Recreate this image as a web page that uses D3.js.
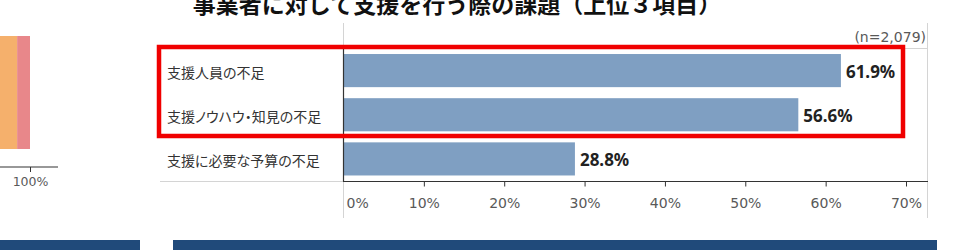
<!DOCTYPE html>
<html><head><meta charset="utf-8">
<script src="https://cdn.jsdelivr.net/npm/d3@7"></script>
<style>
html,body{margin:0;padding:0;background:#fff;}
svg{display:block;}
.cat{font-feature-settings:"palt";}
</style></head>
<body>
<svg id="chart" width="966" height="250"></svg>
<script>
// ---- data ----
const title = "事業者に対して支援を行う際の課題（上位３項目）";
const sampleNote = "(n=2,079)";
const categories = ["支援人員の不足", "支援ノウハウ・知見の不足", "支援に必要な予算の不足"];
const values = [61.9, 56.6, 28.8];
const xTicks = [0, 10, 20, 30, 40, 50, 60, 70];
const highlighted = ["支援人員の不足", "支援ノウハウ・知見の不足"];
// partial neighbouring chart (left edge)
const leftSegNames = ["その他A", "その他B"];
const leftSegValues = [95.4, 4.6];
const leftSegColors = ["#f5b06c", "#e8878a"];
const leftTicks = [100];

const svg = d3.select("#chart");
const font = "'DejaVu Sans', Verdana, sans-serif";
const bfont = "'Noto Sans', 'DejaVu Sans', sans-serif";
const jfont = "'Noto Sans CJK JP', 'Noto Sans', sans-serif";

// ---- left partial chart ----
const lx = d3.scaleLinear().domain([0, 100]).range([-250, 30]);
let acc = 0;
const stacked = leftSegValues.map((v, i) => { const s = {x0: acc, x1: acc + v, c: leftSegColors[i]}; acc += v; return s; });
svg.append("g").selectAll("rect").data(stacked).join("rect")
  .attr("x", d => lx(d.x0)).attr("width", d => lx(d.x1) - lx(d.x0))
  .attr("y", 36).attr("height", 113).attr("fill", d => d.c);
const lax = svg.append("g").attr("transform", "translate(0,167)")
  .call(d3.axisBottom(lx).tickValues(leftTicks).tickFormat(d => d + "%").tickSize(5).tickSizeOuter(0));
lax.select(".domain").remove();
lax.append("line").attr("x1", 0).attr("x2", 58).attr("stroke", "#333").attr("stroke-width", 1.2);
lax.selectAll(".tick line").attr("stroke", "#333");
lax.selectAll(".tick text").attr("font-family", font).attr("font-size", 12.5).attr("fill", "#595959").attr("dy", "0.9em");

// ---- main chart ----
const x = d3.scaleLinear().domain([0, 70]).range([343.5, 906]);
const y = d3.scaleBand().domain(categories).range([48.5, 181]).paddingInner(0.25).paddingOuter(0.125);

// title
svg.append("text").attr("x", 457).attr("y", 13).attr("text-anchor", "middle")
  .attr("font-family", jfont).attr("font-weight", "bold").attr("font-size", 23).attr("fill", "#111")
  .text(title);

// frame lines (light gray)
const gray = "#d4d4d4";
svg.append("line").attr("x1", 343.5).attr("x2", 343.5).attr("y1", 23).attr("y2", 218).attr("stroke", gray);
svg.append("line").attr("x1", 927.5).attr("x2", 927.5).attr("y1", 23).attr("y2", 218).attr("stroke", gray);
svg.append("line").attr("x1", 160).attr("x2", 928).attr("y1", 48.5).attr("y2", 48.5).attr("stroke", gray);
svg.append("line").attr("x1", 160).attr("x2", 343).attr("y1", 181.5).attr("y2", 181.5).attr("stroke", gray);

// n note
svg.append("text").attr("x", 926).attr("y", 37).attr("text-anchor", "end").attr("dominant-baseline", "central")
  .attr("font-family", font).attr("font-size", 14).attr("fill", "#595959").text(sampleNote);

// bars
svg.append("g").selectAll("rect").data(categories).join("rect")
  .attr("x", x(0)).attr("y", d => y(d))
  .attr("width", (d, i) => x(values[i]) - x(0)).attr("height", y.bandwidth())
  .attr("fill", "#7f9fc2");

// value labels
svg.append("g").selectAll("text").data(categories).join("text")
  .attr("x", (d, i) => x(values[i]) + 5).attr("y", d => y(d) + y.bandwidth() / 2 + 1)
  .attr("dominant-baseline", "central")
  .attr("font-family", bfont).attr("font-weight", "bold").attr("font-size", 17).attr("fill", "#222")
  .text((d, i) => values[i].toFixed(1) + "%");

// category labels
svg.append("g").selectAll("text").data(categories).join("text")
  .attr("class", "cat")
  .attr("x", 167).attr("y", d => y(d) + y.bandwidth() / 2 + 1)
  .attr("dominant-baseline", "central")
  .attr("font-family", jfont).attr("font-size", 14).attr("fill", "#333")
  .text(d => d);

// axes
svg.append("line").attr("x1", 343.5).attr("x2", 343.5).attr("y1", 48.5).attr("y2", 181.5).attr("stroke", "#333").attr("stroke-width", 1.2);
const xa = svg.append("g").attr("transform", "translate(0,181.5)")
  .call(d3.axisBottom(x).tickValues(xTicks).tickFormat(d => d + "%").tickSize(5).tickSizeOuter(0));
xa.select(".domain").remove();
xa.append("line").attr("x1", 343).attr("x2", 928).attr("stroke", "#333").attr("stroke-width", 1.2);
xa.selectAll(".tick line").attr("stroke", "#333").filter(d => d === 0).remove();
xa.selectAll(".tick text").attr("font-family", font).attr("font-size", 14).attr("fill", "#595959")
  .attr("y", 21).attr("dy", "0").attr("dominant-baseline", "central")
  .filter(d => d === 0).attr("text-anchor", "start").attr("x", 2.5);

// highlight box
svg.append("rect").attr("x", 159).attr("y", 47).attr("width", 744).attr("height", 89)
  .attr("fill", "none").attr("stroke", "#f00000").attr("stroke-width", 4.5);

// section header bars at bottom
svg.append("rect").attr("x", 0).attr("y", 240).attr("width", 140).attr("height", 10).attr("fill", "#204a7a");
svg.append("rect").attr("x", 173).attr("y", 240).attr("width", 764).attr("height", 10).attr("fill", "#204a7a");
</script>
</body></html>
